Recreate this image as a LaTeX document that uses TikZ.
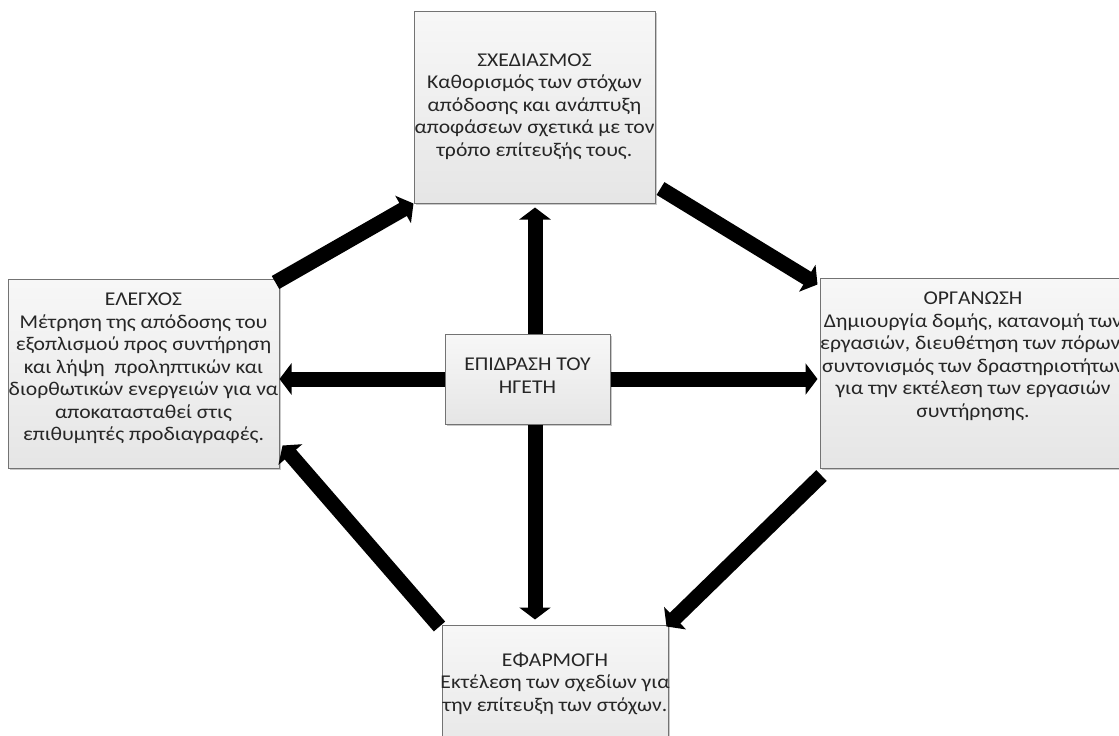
\documentclass[tikz,border=0pt]{standalone}
\usepackage{fontspec}
\usepackage{graphicx}
\setmainfont{Carlito}
\usetikzlibrary{arrows.meta,calc,shadows}

% centred lines, slightly widened
\newcommand{\boxlines}[1]{\scalebox{1.11}[1]{\fontsize{19.5}{22.5}\selectfont\begin{tabular}{@{}c@{}}#1\end{tabular}}}

\begin{document}
\begin{tikzpicture}[x=1pt,y=-1pt,
  box/.style={draw=black!55, line width=1pt,
    top color=white!97!black, bottom color=white!90!black,
    inner sep=0pt,
    drop shadow={shadow xshift=1.5pt, shadow yshift=-1.5pt, opacity=0.3, fill=black!70}},
  txt/.style={text=black!85, inner sep=0pt},
  bigarrow/.style={line width=15pt, black, -{Triangle[width=31pt,length=12pt]}}
]
\useasboundingbox (0,0) rectangle (1119,736);
\clip (0,0) rectangle (1119,736);

% boxes
\node[box, minimum width=241pt, minimum height=192pt] (plan) at (534.5,107) {};
\node[box, minimum width=271pt, minimum height=189pt] (ctrl) at (143.5,373.5) {};
\node[box, minimum width=307pt, minimum height=190pt] (org)  at (973.5,373) {};
\node[box, minimum width=226pt, minimum height=135pt] (impl) at (555,692.5) {};
\node[box, minimum width=165pt, minimum height=90pt]  (ctr)  at (527.5,379) {};

% texts
\node[txt] (plantxt) at (534.5,106.5) {\boxlines{ΣΧΕΔΙΑΣΜΟΣ\\Καθορισμός των στόχων\\απόδοσης και ανάπτυξη\\αποφάσεων σχετικά με τον\\τρόπο επίτευξής τους.}};
\node[txt] (ctrltxt) at (143.5,368.5) {\boxlines{ΕΛΕΓΧΟΣ\\Μέτρηση της απόδοσης του\\εξοπλισμού προς συντήρηση\\και λήψη\ \ προληπτικών και\\διορθωτικών ενεργειών για να\\αποκατασταθεί στις\\επιθυμητές προδιαγραφές.}};
\node[txt] (orgtxt) at (973,356.5) {\boxlines{ΟΡΓΑΝΩΣΗ\\Δημιουργία δομής, κατανομή των\\εργασιών, διευθέτηση των πόρων,\\συντονισμός των δραστηριοτήτων\\για την εκτέλεση των εργασιών\\συντήρησης.}};
\node[txt] (impltxt) at (555,684) {\boxlines{ΕΦΑΡΜΟΓΗ\\Εκτέλεση των σχεδίων για\\την επίτευξη των στόχων.}};
\node[txt] (ctrtxt) at (527.5,377.5) {\boxlines{ΕΠΙΔΡΑΣΗ ΤΟΥ\\ΗΓΕΤΗ}};

% arrows from the centre
\coordinate (vx) at (535,0);
\draw[bigarrow] (ctr.north -| vx) -- ($(plan.south -| vx)+(0,4)$);
\draw[bigarrow] (ctr.south -| vx) -- ($(impl.north -| vx)+(0,-5)$);
\draw[bigarrow] (ctr.west) -- (ctrl.east |- ctr.west);
\draw[bigarrow] (ctr.east) -- ($(org.west |- ctr.east)+(-2,0)$);

% cycle arrows
\draw[bigarrow] ($(ctrl.north east)+(-4,4)$) -- (plan.south west);
\draw[bigarrow] ($(plan.south east)+(5,-15)$) -- ($(org.north west)+(-2,7)$);
\draw[bigarrow] ($(org.south west)+(2,7)$) -- ($(impl.north east)+(-2,2)$);
\draw[bigarrow] ($(impl.north west)+(-2,2)$) -- ($(ctrl.south east)+(3,-23)$);
\end{tikzpicture}
\end{document}
